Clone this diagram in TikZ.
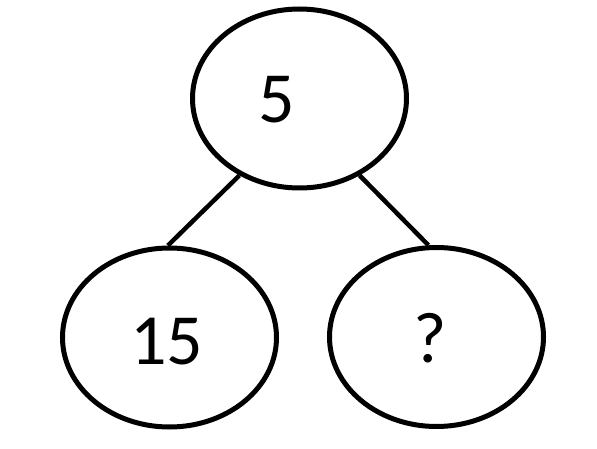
\documentclass[tikz,border=0pt]{standalone}
\usepackage{fontspec}
\setmainfont{Carlito}
\usetikzlibrary{shapes.geometric}
\begin{document}
\begin{tikzpicture}[x=1pt,y=-1pt,
  bubble/.style={draw=black,line width=5pt,ellipse,minimum width=214pt,minimum height=179pt,inner sep=0pt},
  num/.style={inner sep=0pt,font=\fontsize{72}{80}\selectfont},
  link/.style={draw=black,line width=4.5pt}]
\useasboundingbox (0,0) rectangle (597,449);
\node[bubble] (top) at (299.5,98.5) {};
\node[bubble] (left) at (169.5,337.5) {};
\node[bubble] (right) at (436.5,337) {};
\node[num] (t5) at (277,100) {5};
\node[num] (t15) at (166.5,341.5) {15};
\node[num] (tq) at (430,338) {?};
\draw[link] (top.-128) -- (left.91);
\draw[link] (top.-52) -- (right.95);
\end{tikzpicture}
\end{document}
